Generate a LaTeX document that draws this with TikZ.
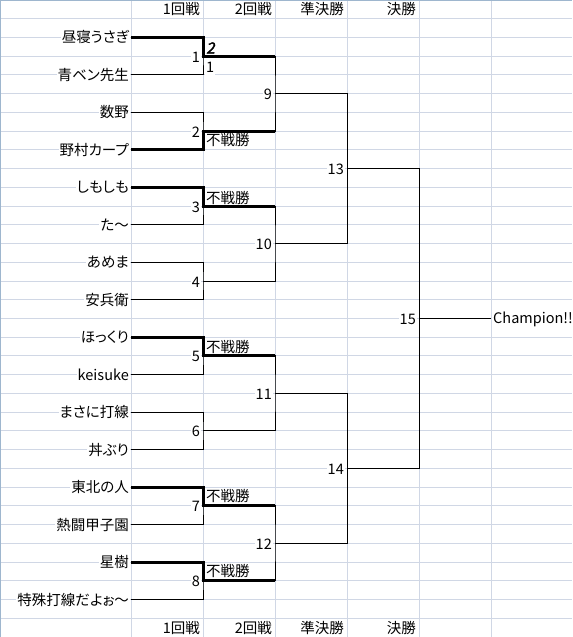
\documentclass[tikz,border=0pt]{standalone}
\usepackage{fontspec}
\setmainfont{Noto Sans CJK JP}[RawFeature=+palt]
\newfontfamily\scorefont{Noto Sans CJK JP}[FakeSlant=0.2,FakeBold=2]

\definecolor{cellgrid}{HTML}{D0D7E5}
\definecolor{sheetedge}{HTML}{9EB6CE}

\tikzset{
  lose/.style={line width=1pt},
  win/.style={line width=3pt},
  entry/.style={fill=white, inner sep=1pt, text height=11pt, text depth=2pt,
    font=\fontsize{14.5pt}{14.5pt}\selectfont},
}

\begin{document}
\begin{tikzpicture}[x=1pt, y=-18.735pt]
    \useasboundingbox (0,0) rectangle (572,34);

    % Sheet grid
    \foreach \r in {1,...,34} {
        \draw[cellgrid, line width=1pt] (0,\r) -- (572,\r);
    }
    \foreach \c in {131,203,275,347,419,491} {
        \draw[cellgrid, line width=1pt] (\c,0) -- (\c,34);
    }
    \draw[sheetedge, line width=2pt] (0,34) -- (0,0) -- (572,0);

    % Column heads
    \foreach \x/\head in {201/1回戦, 273/2回戦, 345/準決勝, 417/決勝} {
        \node[entry, anchor=east] (top\x) at (\x,0.55) {\head};
        \node[entry, anchor=east] (bot\x) at (\x,33.55) {\head};
    }

    % Teams
    \foreach \team [count=\i] in {昼寝うさぎ, 青ベン先生, 数野, 野村カープ,
        しもしも, た～, あめま, 安兵衛, ほっくり, keisuke, まさに打線, 丼ぶり,
        東北の人, 熱闘甲子園, 星樹, 特殊打線だよぉ～} {
        \coordinate (t\i) at (131,2*\i);
        \node[entry, anchor=east, yshift=-1pt] (team\i) at (130,2*\i) {\team};
    }

    % Matches
    \foreach \m/\x/\y in {1/203/3, 2/203/7, 3/203/11, 4/203/15, 5/203/19,
        6/203/23, 7/203/27, 8/203/31, 9/275/5, 10/275/13, 11/275/21,
        12/275/29, 13/347/9, 14/347/25, 15/419/17} {
        \coordinate (m\m) at (\x,\y);
        \node[entry, anchor=east, yshift=-1.5pt, xshift=-2pt] (lab\m) at (m\m) {\m};
    }
    \coordinate (champ) at (491,17);
    \node[entry, anchor=west] (winner) at (492,17) {Champion!!};

    % Results
    \node[entry, anchor=west, font=\fontsize{15.5pt}{15.5pt}\selectfont]
        (score1) at (205,2.62) {\scorefont 2};
    \node[entry, anchor=west] (score2) at (205,3.63) {1};
    \foreach \y [count=\k] in {7.55, 10.6, 18.6, 26.55, 30.55} {
        \node[entry, anchor=west] (bye\k) at (205,\y) {不戦勝};
    }

    % Bracket
    \foreach \m/\a/\b in {1/t1/t2, 2/t3/t4, 3/t5/t6, 4/t7/t8, 5/t9/t10,
        6/t11/t12, 7/t13/t14, 8/t15/t16, 9/m1/m2, 10/m3/m4, 11/m5/m6,
        12/m7/m8, 13/m9/m10, 14/m11/m12, 15/m13/m14} {
        \draw[lose] (\a) -| (m\m) |- (\b);
    }
    \draw[lose] (m15) -- (champ);

    % Winners
    \draw[win] (t1) -| (m1) -- (m1 -| m9);
    \draw[win] (t4) -| (m2) -- (m2 -| m9);
    \draw[win] (t5) -| (m3) -- (m3 -| m10);
    \draw[win] (t9) -| (m5) -- (m5 -| m11);
    \draw[win] (t13) -| (m7) -- (m7 -| m12);
    \draw[win] (t15) -| (m8) -- (m8 -| m12);
\end{tikzpicture}
\end{document}
